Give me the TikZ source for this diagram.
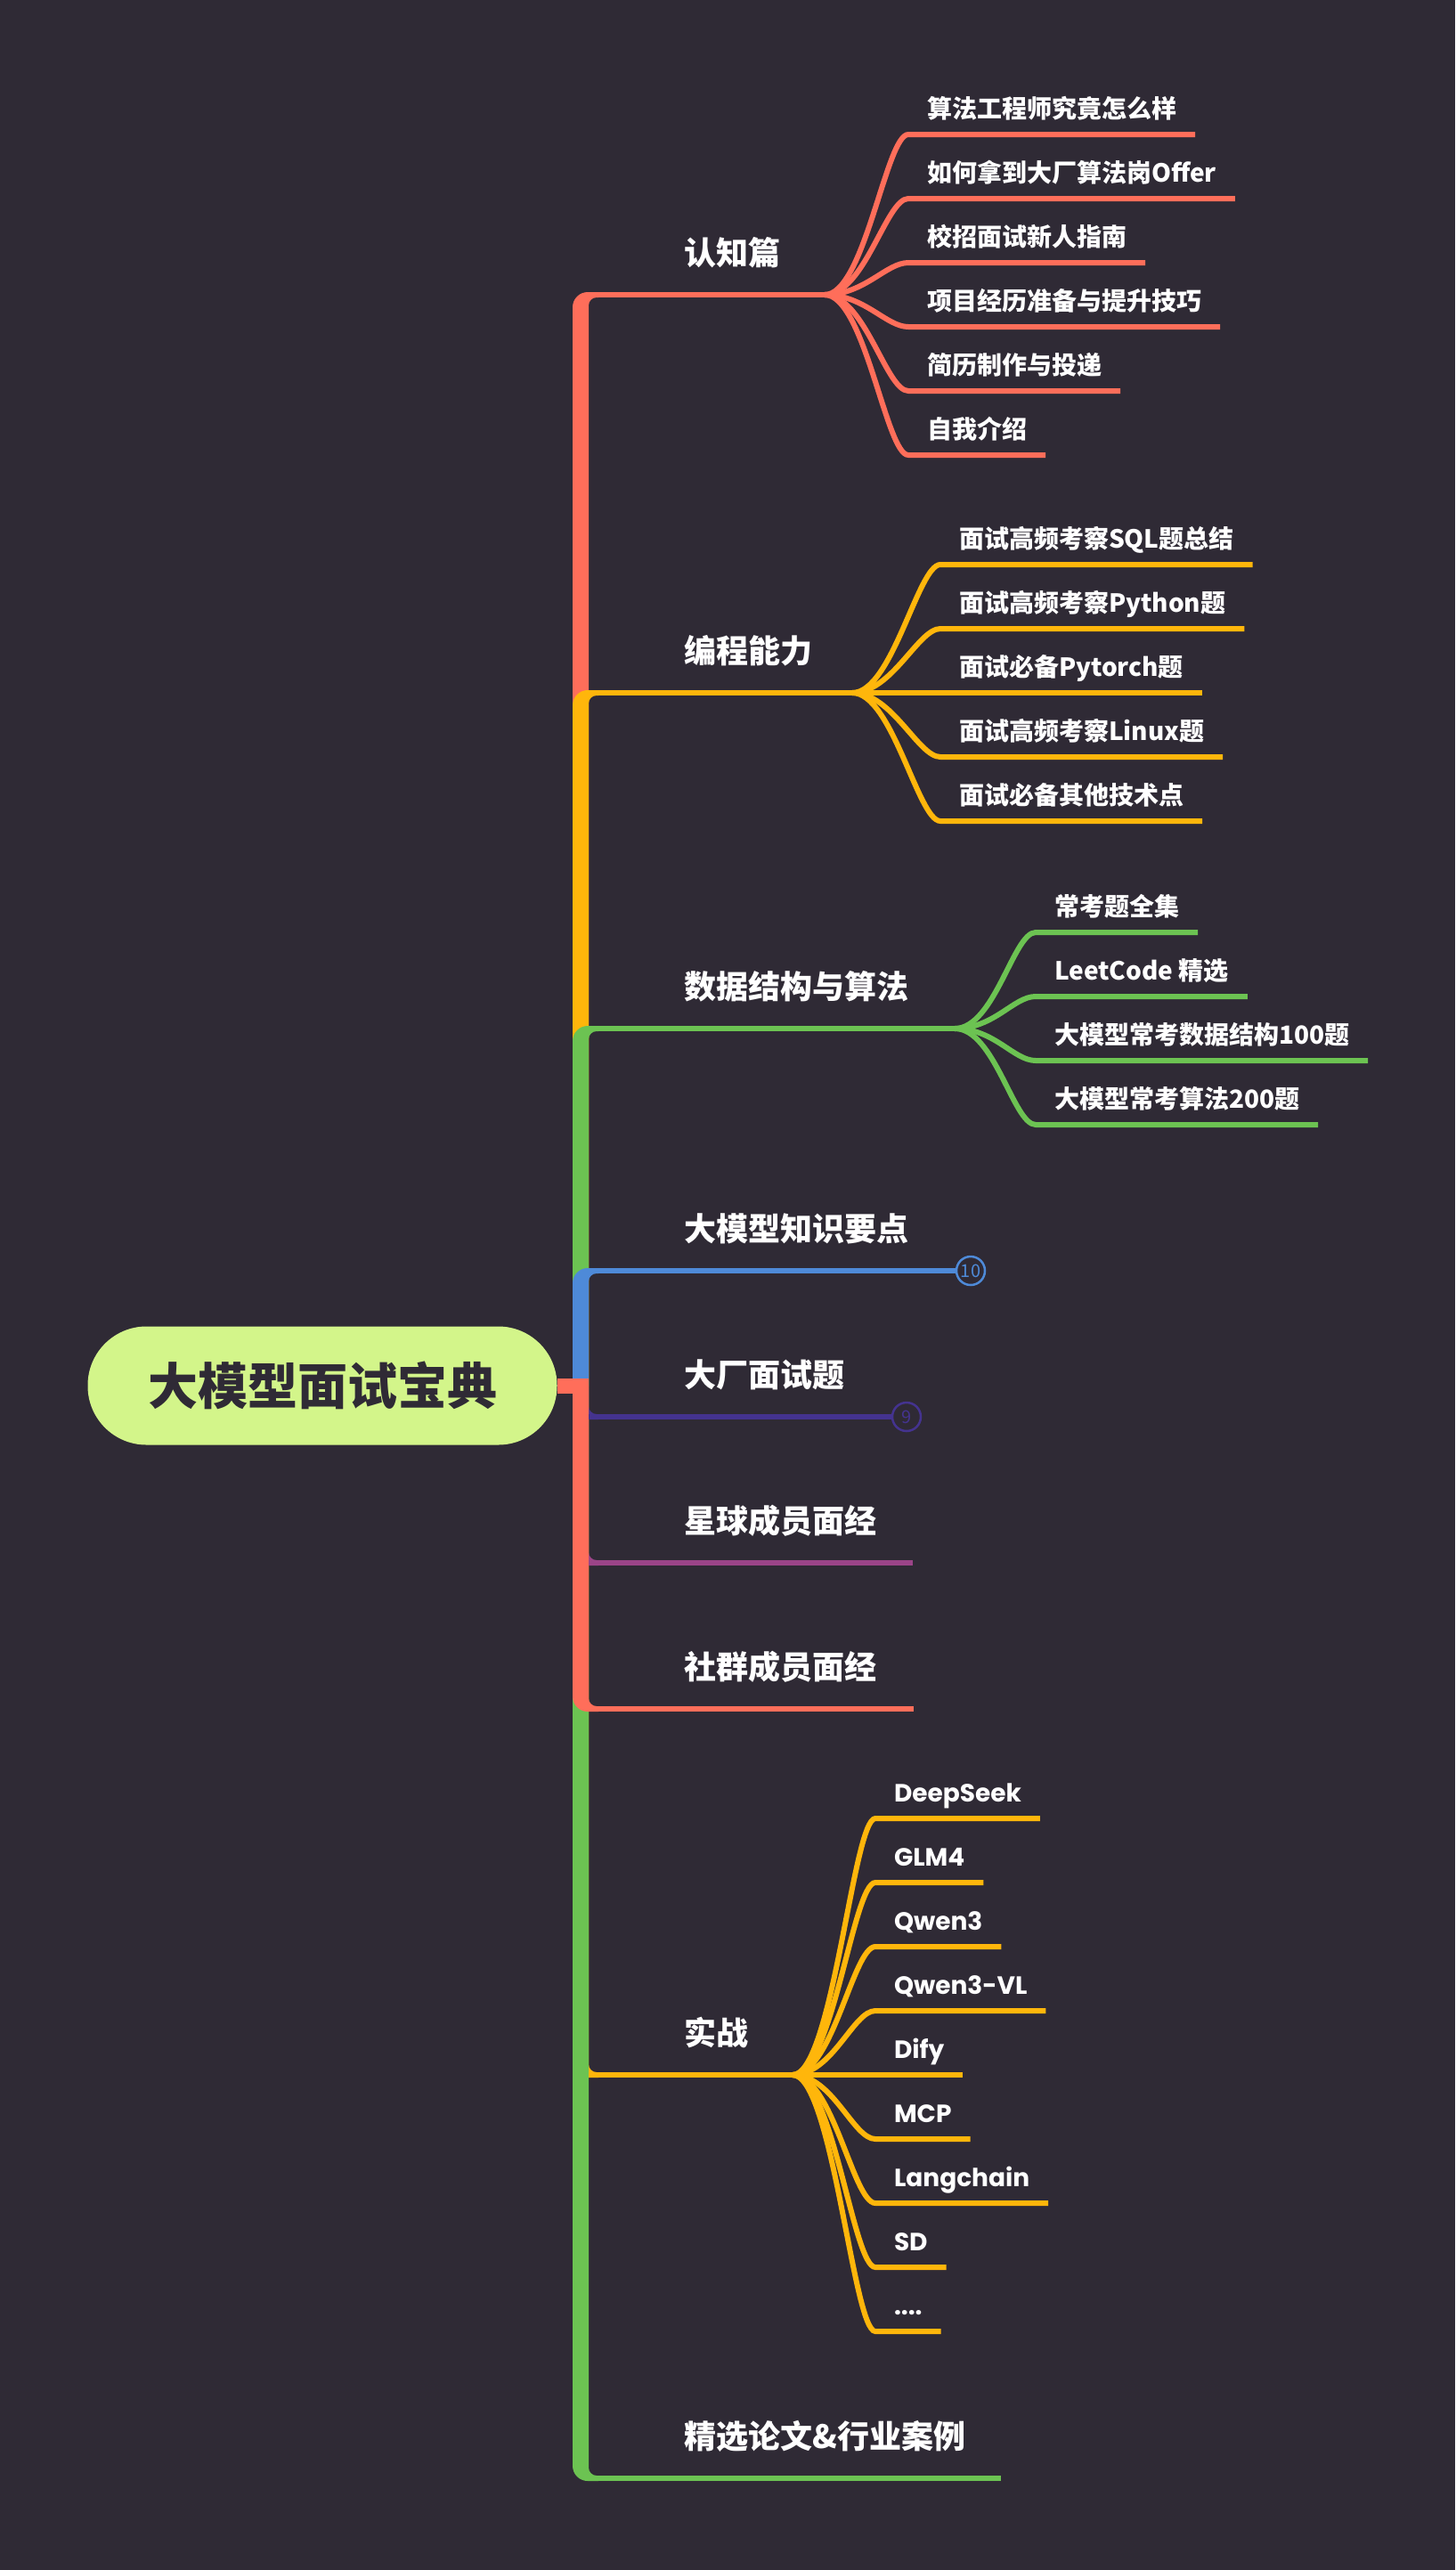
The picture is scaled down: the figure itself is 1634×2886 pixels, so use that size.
\documentclass[tikz,border=0pt]{standalone}
\usepackage{fontspec}
\setmainfont{Noto Sans CJK SC}
\newfontfamily\popfont{Poppins}
\usepackage{tikz}
\usetikzlibrary{positioning}
\definecolor{mmbg}{HTML}{2F2A35}
\definecolor{mmred}{HTML}{FF6E5A}
\definecolor{mmyellow}{HTML}{FFB60B}
\definecolor{mmgreen}{HTML}{6CC352}
\definecolor{mmblue}{HTML}{4E8AD8}
\definecolor{mmindigo}{HTML}{44338F}
\definecolor{mmplum}{HTML}{9B4488}
\definecolor{mmroot}{HTML}{D3F58A}
\tikzset{
  twig/.style={line width=6pt},
  rootnode/.style={fill=mmroot, rounded corners=66pt, minimum width=527pt, minimum height=133pt,
    inner sep=0pt, text=mmbg, font=\fontsize{56}{60}\selectfont\bfseries},
  branch/.style={anchor=base west, inner sep=0pt, text=white, font=\fontsize{36}{40}\selectfont\bfseries},
  leaf/.style={anchor=south west, inner xsep=21pt, inner ysep=19pt, outer sep=0pt,
    text height=20pt, text depth=0pt, text=white, font=\fontsize{28}{32}\selectfont\bfseries},
  enleaf/.style={leaf, font=\fontsize{28}{32}\selectfont\popfont\bfseries},
  leafbelow/.style={below=72pt of #1.south west, anchor=south west},
  badge/.style={circle, draw, line width=2.5pt, minimum size=32pt, inner sep=0pt,
    font=\fontsize{20}{22}\selectfont}
}
% thick trunk piece from the hub to a branch: colour, branch y, -1 up / 1 down
\newcommand{\trunkpart}[3]{%
  \fill[#1] (643,1556) -- (643,{#2-14*#3})
    .. controls (643,{#2-4.6*#3}) and (650.6,{#2+3*#3}) .. (660,{#2+3*#3})
    -- (672,{#2+3*#3}) -- (672,{#2-3*#3}) -- (670,{#2-3*#3})
    .. controls (665,{#2-3*#3}) and (661,{#2-7*#3}) .. (661,{#2-12*#3})
    -- (661,1556) -- cycle;}

\begin{document}
\begin{tikzpicture}[x=1pt, y=-1pt]
    \useasboundingbox (0,0) rectangle (1634,2886);
    \fill[mmbg] (0,0) rectangle (1634,2886);

    % trunk, far branches first
    \trunkpart{mmred}{331}{-1}
    \trunkpart{mmyellow}{778}{-1}
    \trunkpart{mmgreen}{1155}{-1}
    \trunkpart{mmblue}{1427}{-1}
    \trunkpart{mmyellow}{2330}{1}
    \trunkpart{mmgreen}{2783}{1}
    \trunkpart{mmindigo}{1591}{1}
    \trunkpart{mmplum}{1755}{1}
    \trunkpart{mmred}{1919}{1}

    \node[rootnode] (root) at (362,1556) {大模型面试宝典};
    \coordinate (hub) at (661,1556);
    \draw[mmred, line width=17pt] (root.east) -- (hub);

    % 认知篇
    \node[branch] (renzhi) at (768,297) {认知篇};
    \coordinate (renzhi-j) at (661,331);
    \coordinate (renzhi-f) at (926,331);
    \draw[twig, mmred] (renzhi-j) -- (renzhi-f);
    \node[leaf] (rz1) at (1020,151) {算法工程师究竟怎么样};
    \node[leaf, leafbelow=rz1] (rz2) {如何拿到大厂算法岗Offer};
    \node[leaf, leafbelow=rz2] (rz3) {校招面试新人指南};
    \node[leaf, leafbelow=rz3] (rz4) {项目经历准备与提升技巧};
    \node[leaf, leafbelow=rz4] (rz5) {简历制作与投递};
    \node[leaf, leafbelow=rz5] (rz6) {自我介绍};
    \draw[twig, mmred] (renzhi-f) .. controls +(45,0) and +(-25,0) .. (rz1.south west) -- (rz1.south east);
    \draw[twig, mmred] (renzhi-f) .. controls +(45,0) and +(-25,0) .. (rz2.south west) -- (rz2.south east);
    \draw[twig, mmred] (renzhi-f) .. controls +(45,0) and +(-25,0) .. (rz3.south west) -- (rz3.south east);
    \draw[twig, mmred] (renzhi-f) .. controls +(45,0) and +(-25,0) .. (rz4.south west) -- (rz4.south east);
    \draw[twig, mmred] (renzhi-f) .. controls +(45,0) and +(-25,0) .. (rz5.south west) -- (rz5.south east);
    \draw[twig, mmred] (renzhi-f) .. controls +(45,0) and +(-25,0) .. (rz6.south west) -- (rz6.south east);

    % 编程能力
    \node[branch] (biancheng) at (768,744) {编程能力};
    \coordinate (biancheng-j) at (661,778);
    \coordinate (biancheng-f) at (957,778);
    \draw[twig, mmyellow] (biancheng-j) -- (biancheng-f);
    \node[leaf] (bc1) at (1056,634) {面试高频考察SQL题总结};
    \node[leaf, leafbelow=bc1] (bc2) {面试高频考察Python题};
    \node[leaf, leafbelow=bc2] (bc3) {面试必备Pytorch题};
    \node[leaf, leafbelow=bc3] (bc4) {面试高频考察Linux题};
    \node[leaf, leafbelow=bc4] (bc5) {面试必备其他技术点};
    \draw[twig, mmyellow] (biancheng-f) .. controls +(45,0) and +(-25,0) .. (bc1.south west) -- (bc1.south east);
    \draw[twig, mmyellow] (biancheng-f) .. controls +(45,0) and +(-25,0) .. (bc2.south west) -- (bc2.south east);
    \draw[twig, mmyellow] (biancheng-f) .. controls +(45,0) and +(-25,0) .. (bc3.south west) -- (bc3.south east);
    \draw[twig, mmyellow] (biancheng-f) .. controls +(45,0) and +(-25,0) .. (bc4.south west) -- (bc4.south east);
    \draw[twig, mmyellow] (biancheng-f) .. controls +(45,0) and +(-25,0) .. (bc5.south west) -- (bc5.south east);

    % 数据结构与算法
    \node[branch] (shuju) at (768,1121) {数据结构与算法};
    \coordinate (shuju-j) at (661,1155);
    \coordinate (shuju-f) at (1072,1155);
    \draw[twig, mmgreen] (shuju-j) -- (shuju-f);
    \node[leaf] (sj1) at (1163,1047) {常考题全集};
    \node[leaf, leafbelow=sj1] (sj2) {LeetCode 精选};
    \node[leaf, leafbelow=sj2] (sj3) {大模型常考数据结构100题};
    \node[leaf, leafbelow=sj3] (sj4) {大模型常考算法200题};
    \draw[twig, mmgreen] (shuju-f) .. controls +(45,0) and +(-25,0) .. (sj1.south west) -- (sj1.south east);
    \draw[twig, mmgreen] (shuju-f) .. controls +(45,0) and +(-25,0) .. (sj2.south west) -- (sj2.south east);
    \draw[twig, mmgreen] (shuju-f) .. controls +(45,0) and +(-25,0) .. (sj3.south west) -- (sj3.south east);
    \draw[twig, mmgreen] (shuju-f) .. controls +(45,0) and +(-25,0) .. (sj4.south west) -- (sj4.south east);

    % 大模型知识要点, 大厂面试题
    \node[branch] (damoxing) at (768,1393) {大模型知识要点};
    \coordinate (damoxing-j) at (661,1427);
    \node[badge, draw=mmblue, text=mmblue] (n10) at (1090,1427) {10};
    \draw[twig, mmblue] (damoxing-j) -- (n10.west);
    \node[branch] (dachang) at (768,1557) {大厂面试题};
    \coordinate (dachang-j) at (661,1591);
    \node[badge, draw=mmindigo, text=mmindigo] (n9) at (1018,1591) {9};
    \draw[twig, mmindigo] (dachang-j) -- (n9.west);

    % 面经
    \node[branch] (xingqiu) at (768,1721) {星球成员面经};
    \coordinate (xingqiu-j) at (661,1755);
    \coordinate (xingqiu-e) at (1025,1755);
    \draw[twig, mmplum] (xingqiu-j) -- (xingqiu-e);
    \node[branch] (shequn) at (768,1885) {社群成员面经};
    \coordinate (shequn-j) at (661,1919);
    \coordinate (shequn-e) at (1026,1919);
    \draw[twig, mmred] (shequn-j) -- (shequn-e);

    % 实战
    \node[branch] (shizhan) at (768,2296) {实战};
    \coordinate (shizhan-j) at (661,2330);
    \coordinate (shizhan-f) at (890,2330);
    \draw[twig, mmyellow] (shizhan-j) -- (shizhan-f);
    \node[enleaf] (sz1) at (983,2042) {DeepSeek};
    \node[enleaf, leafbelow=sz1] (sz2) {GLM4};
    \node[enleaf, leafbelow=sz2] (sz3) {Qwen3};
    \node[enleaf, leafbelow=sz3] (sz4) {Qwen3-VL};
    \node[enleaf, leafbelow=sz4] (sz5) {Dify};
    \node[enleaf, leafbelow=sz5] (sz6) {MCP};
    \node[enleaf, leafbelow=sz6] (sz7) {Langchain};
    \node[enleaf, leafbelow=sz7] (sz8) {SD};
    \node[enleaf, leafbelow=sz8] (sz9) {....};
    \draw[twig, mmyellow] (shizhan-f) .. controls +(45,0) and +(-25,0) .. (sz1.south west) -- (sz1.south east);
    \draw[twig, mmyellow] (shizhan-f) .. controls +(45,0) and +(-25,0) .. (sz2.south west) -- (sz2.south east);
    \draw[twig, mmyellow] (shizhan-f) .. controls +(45,0) and +(-25,0) .. (sz3.south west) -- (sz3.south east);
    \draw[twig, mmyellow] (shizhan-f) .. controls +(45,0) and +(-25,0) .. (sz4.south west) -- (sz4.south east);
    \draw[twig, mmyellow] (shizhan-f) .. controls +(45,0) and +(-25,0) .. (sz5.south west) -- (sz5.south east);
    \draw[twig, mmyellow] (shizhan-f) .. controls +(45,0) and +(-25,0) .. (sz6.south west) -- (sz6.south east);
    \draw[twig, mmyellow] (shizhan-f) .. controls +(45,0) and +(-25,0) .. (sz7.south west) -- (sz7.south east);
    \draw[twig, mmyellow] (shizhan-f) .. controls +(45,0) and +(-25,0) .. (sz8.south west) -- (sz8.south east);
    \draw[twig, mmyellow] (shizhan-f) .. controls +(45,0) and +(-25,0) .. (sz9.south west) -- (sz9.south east);

    % 精选论文&行业案例
    \node[branch] (jingxuan) at (768,2749) {精选论文\&行业案例};
    \coordinate (jingxuan-j) at (661,2783);
    \coordinate (jingxuan-e) at (1124,2783);
    \draw[twig, mmgreen] (jingxuan-j) -- (jingxuan-e);
\end{tikzpicture}
\end{document}
